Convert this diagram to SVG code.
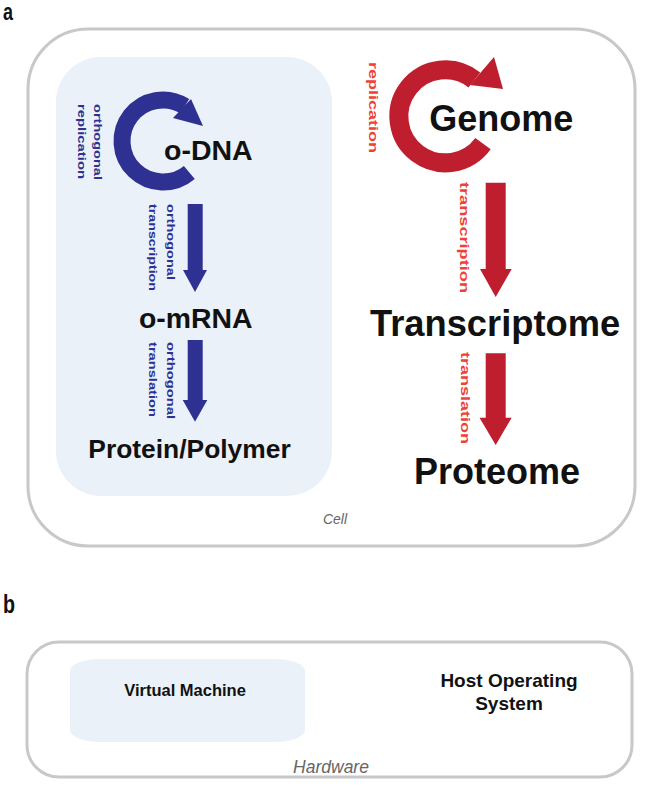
<svg xmlns="http://www.w3.org/2000/svg" width="650" height="791" viewBox="0 0 650 791">
<style>
.frame{fill:#fff;stroke:#c8c8c8;stroke-width:3}
.inner{fill:#eaf1f8}
.big{font-family:"Liberation Sans",Arial,sans-serif;font-weight:bold;fill:#111}
.bl{font-family:"Liberation Sans",Arial,sans-serif;font-weight:bold;font-size:11.5px;fill:#2e3192}
.rl{font-family:"Liberation Sans",Arial,sans-serif;font-weight:bold;font-size:13px;fill:#ef4136}
.cap{font-family:"Liberation Sans",Arial,sans-serif;font-style:italic;fill:#666}
.panel{font-family:"Liberation Sans",Arial,sans-serif;font-weight:bold;fill:#111}
.blue{fill:#2e3192}
.red{fill:#be1e2d}
</style>
<text class="panel" x="3" y="20" font-size="23" textLength="10" lengthAdjust="spacingAndGlyphs">a</text>
<text class="panel" x="3" y="613" font-size="26" textLength="12" lengthAdjust="spacingAndGlyphs">b</text>

<g id="cell">
<rect class="frame" x="28" y="29" width="607" height="517" rx="60" ry="60"/>
<text class="cap" x="335" y="524" font-size="14" text-anchor="middle">Cell</text>
</g>
<g id="ortho-box">
<rect class="inner" x="56" y="57" width="276" height="439" rx="45" ry="45"/>
</g>

<g id="connectors">
<path d="M189.35,172.41 A41,41 0 1 1 184.7,106.2" fill="none" stroke="#2e3192" stroke-width="17"/>
<polygon class="blue" points="191,99 203,126 173,118"/>
<polygon class="blue" points="187.7,204 202.7,204 202.7,270 207,270 195,292 183,270 187.7,270"/>
<polygon class="blue" points="187.7,340 202.7,340 202.7,400 207.3,400 195,421.7 182.7,400 187.7,400"/>
<path d="M483,143.6 A46.5,46.5 0 1 1 474.4,80" fill="none" stroke="#be1e2d" stroke-width="19"/>
<polygon class="red" points="494,57 503,89 470,85"/>
<polygon class="red" points="485.7,182.7 505.7,182.7 505.7,269 511.7,269 495.7,297 480,269 485.7,269"/>
<polygon class="red" points="485.7,353.3 505.7,353.3 505.7,417.7 511.7,417.7 495.7,445 479.5,417.7 485.7,417.7"/>
<text class="bl" transform="translate(94,104) rotate(90)" textLength="76" lengthAdjust="spacingAndGlyphs">orthogonal</text>
<text class="bl" transform="translate(78,104) rotate(90)" textLength="75" lengthAdjust="spacingAndGlyphs">replication</text>
<text class="bl" transform="translate(167,204) rotate(90)" textLength="76" lengthAdjust="spacingAndGlyphs">orthogonal</text>
<text class="bl" transform="translate(149,204) rotate(90)" textLength="87" lengthAdjust="spacingAndGlyphs">transcription</text>
<text class="bl" transform="translate(167,342) rotate(90)" textLength="77" lengthAdjust="spacingAndGlyphs">orthogonal</text>
<text class="bl" transform="translate(149,342) rotate(90)" textLength="75" lengthAdjust="spacingAndGlyphs">translation</text>
<text class="rl" transform="translate(369,62) rotate(90)" textLength="91" lengthAdjust="spacingAndGlyphs">replication</text>
<text class="rl" transform="translate(460,182) rotate(90)" textLength="111" lengthAdjust="spacingAndGlyphs">transcription</text>
<text class="rl" transform="translate(461,352) rotate(90)" textLength="92" lengthAdjust="spacingAndGlyphs">translation</text>
</g>

<g id="o-DNA"><text class="big" x="164" y="160" font-size="28.5">o-DNA</text></g>
<g id="o-mRNA"><text class="big" x="139" y="327.5" font-size="28.4">o-mRNA</text></g>
<g id="protein-polymer"><text class="big" x="88.3" y="457.5" font-size="26.4">Protein/Polymer</text></g>
<g id="genome"><text class="big" x="429.3" y="131" font-size="36">Genome</text></g>
<g id="transcriptome"><text class="big" x="370" y="336" font-size="36.3">Transcriptome</text></g>
<g id="proteome"><text class="big" x="414" y="484" font-size="36">Proteome</text></g>

<g id="hardware">
<rect class="frame" x="27" y="642" width="605" height="135" rx="32" ry="32"/>
<text class="cap" x="331" y="773" font-size="17.5" text-anchor="middle">Hardware</text>
</g>
<g id="virtual-machine">
<rect class="inner" x="70" y="659" width="235" height="83" rx="30" ry="12"/>
<text class="big" x="185" y="696" font-size="16.5" text-anchor="middle">Virtual Machine</text>
</g>
<g id="host-os">
<text class="big" x="509" y="687" font-size="19" text-anchor="middle">Host Operating</text>
<text class="big" x="509" y="710" font-size="19" text-anchor="middle">System</text>
</g>
</svg>
